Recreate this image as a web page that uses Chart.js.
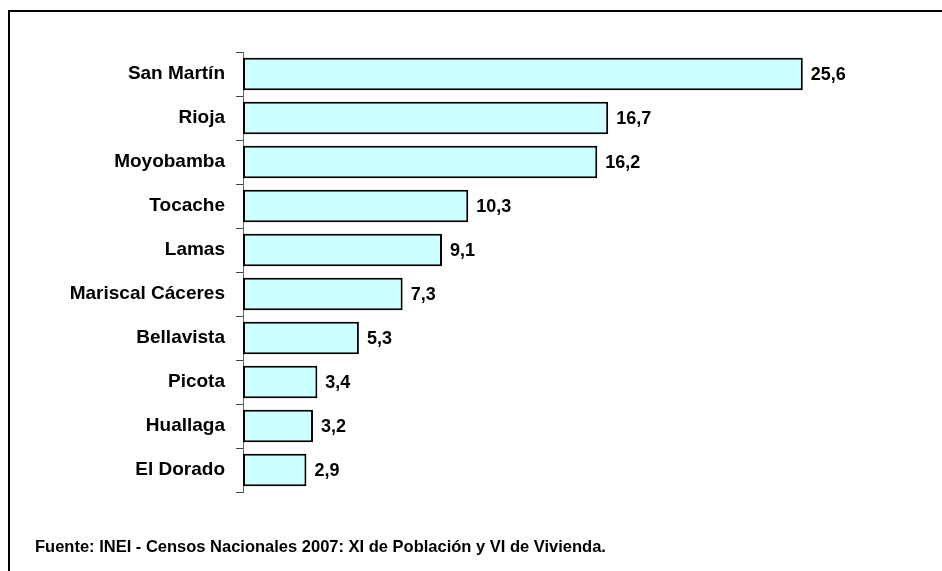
<!DOCTYPE html>
<html>
<head>
<meta charset="utf-8">
<script src="https://cdn.jsdelivr.net/npm/chart.js@4.4.1/dist/chart.umd.min.js"></script>
<style>
  html, body { margin: 0; padding: 0; background: #fff; }
  #wrap { position: relative; width: 942px; height: 571px; overflow: hidden; }
  #frame { position: absolute; left: 8px; top: 10px; width: 940px; height: 570px; border-top: 2px solid #000; border-left: 2px solid #000; box-sizing: border-box; }
  #src { position: absolute; left: 35px; top: 537px; font-family: "Liberation Sans", Arial, sans-serif; font-weight: bold; font-size: 16.5px; color: #000; white-space: nowrap; letter-spacing: 0px; }
  canvas { position: absolute; left: 0; top: 0; }
</style>
</head>
<body>
<div id="wrap">
  <canvas id="c" width="942" height="571"></canvas>
  <div id="frame"></div>
  <div id="src">Fuente: INEI - Censos Nacionales 2007: XI de Población y VI de Vivienda.</div>
</div>
<script>
const categories = ["San Martín", "Rioja", "Moyobamba", "Tocache", "Lamas", "Mariscal Cáceres", "Bellavista", "Picota", "Huallaga", "El Dorado"];
const values = [25.6, 16.7, 16.2, 10.3, 9.1, 7.3, 5.3, 3.4, 3.2, 2.9];

const valueLabels = {
  id: 'valueLabels',
  afterDatasetsDraw(chart) {
    const ctx = chart.ctx;
    const meta = chart.getDatasetMeta(0);
    ctx.save();
    ctx.font = 'bold 18px "Liberation Sans", Arial, sans-serif';
    ctx.fillStyle = '#000';
    ctx.textAlign = 'left';
    ctx.textBaseline = 'middle';
    meta.data.forEach((bar, i) => {
      ctx.fillText(values[i].toFixed(1).replace('.', ','), bar.x + 8, bar.y + 1);
    });
    ctx.restore();
  }
};

new Chart(document.getElementById('c'), {
  type: 'bar',
  data: {
    labels: categories,
    datasets: [{
      data: values,
      backgroundColor: '#CCFFFF',
      borderColor: '#000',
      borderWidth: 2,
      borderSkipped: false,
      categoryPercentage: 1,
      barPercentage: 0.74
    }]
  },
  options: {
    indexAxis: 'y',
    responsive: false,
    animation: false,
    layout: { padding: { left: 0, right: 43, top: 52, bottom: 79 } },
    plugins: { legend: { display: false }, tooltip: { enabled: false } },
    scales: {
      x: { display: false, min: 0, max: 30 },
      y: {
        afterFit(s) { s.width = 243; },
        border: { display: true, color: '#666', width: 1 },
        grid: { drawOnChartArea: false, drawTicks: true, tickLength: 7, color: '#444', offset: true },
        ticks: { color: '#000', padding: 11, font: { family: '"Liberation Sans", Arial, sans-serif', size: 19, weight: 'bold' } }
      }
    }
  },
  plugins: [valueLabels]
});
</script>
</body>
</html>
